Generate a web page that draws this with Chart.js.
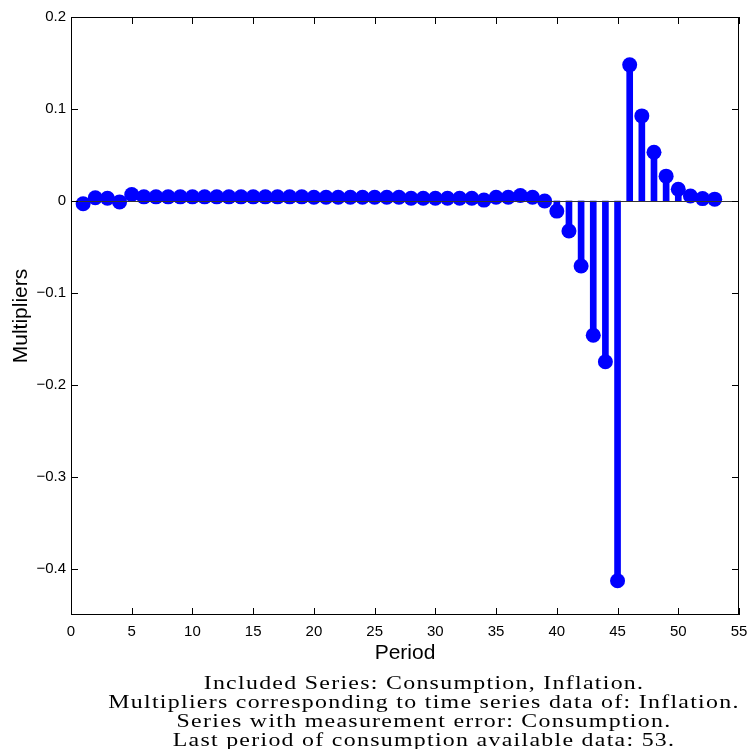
<!DOCTYPE html>
<html>
<head>
<meta charset="utf-8">
<script src="https://cdn.jsdelivr.net/npm/chart.js@4.4.0/dist/chart.umd.min.js"></script>
<style>
  body { margin: 0; background: #fff; }
  #wrap { position: relative; width: 748px; height: 749px; }
  #caption {
    position: absolute; left: 100px; width: 648px; top: 674px;
    text-align: center; white-space: nowrap;
    font-family: "Liberation Serif", serif; font-size: 18.5px;
    letter-spacing: 1px; line-height: 19px; color: #000;
    transform: scaleX(1.29); transform-origin: 50% 50%;
  }
</style>
</head>
<body>
<div id="wrap">
  <canvas id="stem_chart" width="748" height="749"></canvas>
  <div id="caption">
    Included Series: Consumption, Inflation.<br>
    Multipliers corresponding to time series data of: Inflation.<br>
    Series with measurement error: Consumption.<br>
    Last period of consumption available data: 53.
  </div>
</div>
<script>
// periods 1..53
var periods = [1, 2, 3, 4, 5, 6, 7, 8, 9, 10, 11, 12, 13, 14, 15, 16, 17, 18, 19, 20,
  21, 22, 23, 24, 25, 26, 27, 28, 29, 30, 31, 32, 33, 34, 35, 36, 37, 38, 39, 40,
  41, 42, 43, 44, 45, 46, 47, 48, 49, 50, 51, 52, 53];
var multipliers = [-0.003, 0.0035, 0.003, -0.001, 0.007, 0.0045, 0.0045, 0.0045, 0.0045, 0.0045,
  0.0045, 0.0045, 0.0045, 0.0045, 0.0045, 0.0045, 0.0045, 0.0045, 0.0045, 0.004,
  0.004, 0.004, 0.004, 0.004, 0.004, 0.004, 0.004, 0.003, 0.003, 0.003,
  0.003, 0.003, 0.003, 0.001, 0.004, 0.004, 0.006, 0.004, 0.0, -0.011,
  -0.0326, -0.0707, -0.146, -0.1747, -0.4127, 0.148, 0.0925, 0.053, 0.027, 0.0127,
  0.0055, 0.0026, 0.002];
var xTicks = [0, 5, 10, 15, 20, 25, 30, 35, 40, 45, 50, 55];
var yTicks = [-0.4, -0.3, -0.2, -0.1, 0, 0.1, 0.2];

var stemColor = "#0000ff";

var points = periods.map(function(p, i){ return {x: p, y: multipliers[i]}; });

function fmtY(v){
  if (Math.abs(v) < 1e-9) return "0";
  var s = Math.abs(v).toFixed(1);
  return v < 0 ? "\u2212" + s : s;
}

// box, inward ticks and zero baseline (matlab style)
var boxPlugin = {
  id: 'boxPlugin',
  afterDatasetsDraw: function(chart){
    var c = chart.ctx, a = chart.chartArea;
    var xs = chart.scales.x, ys = chart.scales.y;
    c.save();
    // baseline
    var y0 = Math.round(ys.getPixelForValue(0)) + 0.5;
    c.strokeStyle = "#333";
    c.lineWidth = 1;
    c.beginPath(); c.moveTo(a.left, y0); c.lineTo(a.right, y0); c.stroke();
    // box
    c.strokeStyle = "#000";
    c.strokeRect(a.left + 0.5, a.top + 0.5, a.right - a.left - 1, a.bottom - a.top - 1);
    var len = 7;
    c.beginPath();
    xTicks.forEach(function(t){
      var x = Math.round(xs.getPixelForValue(t)) + 0.5;
      c.moveTo(x, a.bottom); c.lineTo(x, a.bottom - len);
      c.moveTo(x, a.top); c.lineTo(x, a.top + len);
    });
    yTicks.forEach(function(t){
      var y = Math.round(ys.getPixelForValue(t)) + 0.5;
      c.moveTo(a.left, y); c.lineTo(a.left + len, y);
      c.moveTo(a.right, y); c.lineTo(a.right - len, y);
    });
    c.stroke();
    c.restore();
  }
};

var ctx = document.getElementById("stem_chart").getContext('2d');
var stem_chart = new Chart(ctx, {
  type: 'bar',
  data: {
    datasets: [{
      type: 'bar',
      data: points,
      backgroundColor: stemColor,
      borderWidth: 0,
      barThickness: 6,
      grouped: false,
      order: 2
    }, {
      type: 'line',
      data: points,
      showLine: false,
      pointRadius: 7.5,
      pointBackgroundColor: stemColor,
      pointBorderWidth: 0,
      order: 1
    }]
  },
  plugins: [boxPlugin],
  options: {
    responsive: false,
    animation: false,
    layout: { padding: { top: 17, right: 9, left: 0, bottom: 79 } },
    plugins: { legend: { display: false }, tooltip: { enabled: false } },
    scales: {
      x: {
        type: 'linear',
        offset: false,
        min: 0, max: 55,
        grid: { display: false, drawTicks: false },
        border: { display: false },
        afterBuildTicks: function(s){ s.ticks = xTicks.map(function(v){ return {value: v}; }); },
        afterFit: function(s){ s.height = 55; s.paddingLeft = 0; s.paddingRight = 0; },
        ticks: {
          padding: 8, maxRotation: 0, autoSkip: false,
          color: "#000", font: { family: "Liberation Sans", size: 15 }
        },
        title: {
          display: true, text: "Period", color: "#000",
          font: { family: "Liberation Sans", size: 21 }, padding: { top: 0, bottom: 4 }
        }
      },
      y: {
        min: -0.45, max: 0.2,
        grid: { display: false, drawTicks: false },
        border: { display: false },
        afterBuildTicks: function(s){ s.ticks = yTicks.map(function(v){ return {value: v}; }); },
        afterFit: function(s){ s.width = 71; s.paddingTop = 0; s.paddingBottom = 0; },
        ticks: {
          padding: 5, color: "#000",
          font: { family: "Liberation Sans", size: 15 },
          callback: function(v){ return fmtY(v); }
        },
        title: {
          display: true, text: "Multipliers", color: "#000",
          font: { family: "Liberation Sans", size: 21 }, padding: { top: 9, bottom: 0 }
        }
      }
    }
  }
});
</script>
</body>
</html>
